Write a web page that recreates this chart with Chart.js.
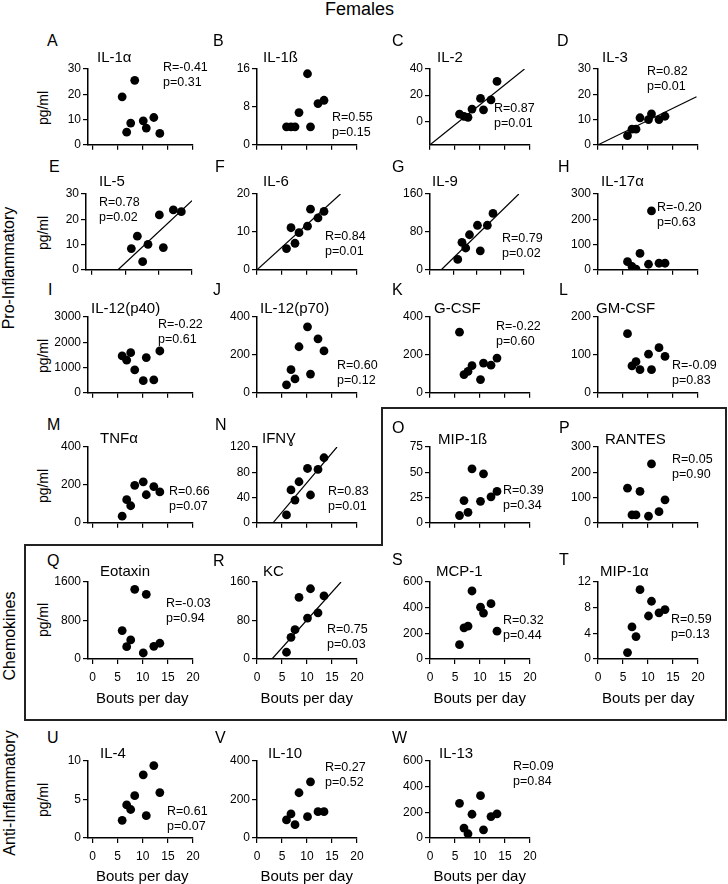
<!DOCTYPE html>
<html>
<head>
<meta charset="utf-8">
<script src="https://cdn.jsdelivr.net/npm/chart.js@4.4.1/dist/chart.umd.min.js"></script>
<style>
body { margin: 0; background: #fff; }
#wrap { position: relative; width: 728px; height: 884px; overflow: hidden; font-family: "Liberation Sans", Arial, sans-serif; color: #000; }
.t { position: absolute; white-space: nowrap; line-height: 1; }
.rot { position: absolute; white-space: nowrap; line-height: 1; transform: translate(-50%, -50%) rotate(-90deg); }
canvas { position: absolute; }
svg { position: absolute; left: 0; top: 0; }
</style>
</head>
<body>
<div id="wrap"></div>
<script>
// bouts per day of the 8 females (same animals in every panel)
const bouts = [5.9, 6.8, 7.6, 8.4, 10.1, 10.7, 12.2, 13.4];
const xTicks = [0, 5, 10, 15, 20];

// cytokine levels, pg/ml, in the same order as bouts
const il1a  = [19, 5, 8.6, 25.5, 9.5, 6.6, 10.8, 4.5];
const il1b  = [3.8, 3.8, 3.8, 6.8, 15, 3.8, 8.7, 9.4];
const il2   = [5.5, 3.8, 3, 9.3, 17.5, 8.8, 16.3, 30.5];
const il3   = [3.6, 6.2, 6.2, 10.7, 10, 12.2, 10, 11.3];
const il5   = [8.4, 13.3, 3.2, 10.1, 21.7, 8.8, 23.7, 23];
const il6   = [5.6, 11.1, 7.0, 9.8, 11.5, 16, 13.7, 15.4];
const il9   = [22, 58, 46, 74, 94, 40, 94, 119];
const il17a = [32, 13, 3, 65, 22, 233, 26, 26];
const il12p40 = [1460, 1290, 1590, 910, 480, 1395, 510, 1655];
const il12p70 = [42, 122, 73, 243, 348, 99, 285, 221];
const gcsf  = [320, 96, 113, 143, 70, 157, 146, 183];
const gmcsf = [156, 71, 82, 61, 102, 61, 119, 96];
const tnfa  = [35, 122, 90, 198, 216, 148, 191, 163];
const ifng  = [12.5, 52, 36, 65, 86, 44, 84.5, 103];
const mip1b = [7.2, 22, 10.4, 53.4, 21.2, 48.5, 25.7, 31];
const rantes = [137, 31, 31, 124, 26, 233, 44, 91];
const eotaxin = [590, 257, 397, 1447, 125, 1343, 264, 327];
const kc    = [14, 45, 61, 128, 85, 146, 96, 131];
const mcp1  = [112, 243, 256, 530, 404, 358, 431, 217];
const mip1a = [1.0, 5.0, 3.5, 10.8, 6.7, 9.0, 7.2, 7.7];
const il4   = [2.3, 4.3, 3.7, 5.5, 8.2, 2.9, 9.4, 5.9];
const il10  = [94, 125, 69, 235, 111, 292, 137, 137];
const il13  = [270, 77, 33, 185, 330, 64, 167, 188];

const series = [il1a, il1b, il2, il3, il5, il6, il9, il17a, il12p40, il12p70, gcsf, gmcsf,
                tnfa, ifng, mip1b, rantes, eotaxin, kc, mcp1, mip1a, il4, il10, il13];
const names = ["IL-1α", "IL-1ß", "IL-2", "IL-3", "IL-5", "IL-6", "IL-9", "IL-17α", "IL-12(p40)", "IL-12(p70)",
               "G-CSF", "GM-CSF", "TNFα", "IFNƔ", "MIP-1ß", "RANTES", "Eotaxin", "KC", "MCP-1", "MIP-1α",
               "IL-4", "IL-10", "IL-13"];
const letters = "ABCDEFGHIJKLMNOPQRSTUVW".split("");
const rText = ["R=-0.41", "R=0.55", "R=0.87", "R=0.82", "R=0.78", "R=0.84", "R=0.79", "R=-0.20", "R=-0.22", "R=0.60",
               "R=-0.22", "R=-0.09", "R=0.66", "R=0.83", "R=0.39", "R=0.05", "R=-0.03", "R=0.75", "R=0.32", "R=0.59",
               "R=0.61", "R=0.27", "R=0.09"];
const pText = ["p=0.31", "p=0.15", "p=0.01", "p=0.01", "p=0.02", "p=0.01", "p=0.02", "p=0.63", "p=0.61", "p=0.12",
               "p=0.60", "p=0.83", "p=0.07", "p=0.01", "p=0.34", "p=0.90", "p=0.94", "p=0.03", "p=0.44", "p=0.13",
               "p=0.07", "p=0.52", "p=0.84"];
const yTickSets = [[0, 10, 20, 30], [0, 8, 16], [0, 20, 40], [0, 10, 20, 30], [0, 10, 20, 30], [0, 10, 20],
                   [0, 80, 160], [0, 100, 200, 300], [0, 1000, 2000, 3000], [0, 200, 400], [0, 200, 400], [0, 100, 200],
                   [0, 200, 400], [0, 40, 80, 120], [0, 25, 50, 75], [0, 100, 200, 300], [0, 800, 1600], [0, 80, 160],
                   [0, 200, 400, 600], [0, 4, 8, 12], [0, 5, 10], [0, 200, 400], [0, 200, 400, 600]];
const yMinVals = [0, 0, -18, 0, 0, 0, 0, 0, 0, 0, 0, 0, 0, 0, 0, 0, 0, 0, 0, 0, 0, 0, 0];
const xMaxVals = [20, 20, 20, 20, 15, 20, 20, 20, 20, 20, 20, 20, 20, 20, 20, 20, 20, 20, 20, 20, 20, 20, 20];

// regression lines, two end points each (bouts, pg/ml)
const fitIL2 = [[0, -18], [18.9, 40]];
const fitIL3 = [[0, 0], [19.7, 19]];
const fitIL5 = [[3.9, 0], [15, 27.4]];
const fitIL6 = [[0, 0], [16.7, 20]];
const fitIL9 = [[2.4, 0], [18.9, 160]];
const fitIFNg = [[3.2, 0], [16, 120]];
const fitKC = [[3, 0], [16.8, 160]];
const fits = {2: fitIL2, 3: fitIL3, 4: fitIL5, 5: fitIL6, 6: fitIL9, 13: fitIFNg, 17: fitKC};

// ---- layout (pixels) ----
const FONT = '"Liberation Sans", Arial, sans-serif';
const colX0 = [92.3, 256.7, 429.7, 598.3];
const rowTop = [69, 194.4, 317.3, 447.3, 581.7, 761];
const plotH = 77;
const xTitleY = [0, 0, 0, 0, 697, 875];
const letterPos = [[47,41],[213,41],[392,41],[557,41],[49,167],[215,167],[392,167],[558,167],
                   [48,290],[213,290],[392,290],[559,290],[47,425],[215,425],[392,428],[559,428],
                   [47,561],[213,561],[392,560],[559,560],[47,738],[215,738],[392,738]];
const titlePos = [[97,56],[263,56],[437,56],[602,56],[99,180],[263,180],[432,180],[601,180],
                  [91,307],[260,307],[434,307],[596,307],[100,437],[262,437],[438,438],[605,438],
                  [100,570],[263,570],[436,570],[600,570],[100,752],[268,752],[439,752]];
const statPos = [[163,67],[332,117],[494,108],[647,71],[99,202],[325,236],[502,238],[657,207],
                 [158,324],[337,365],[496,326],[672,365],[169,491],[328,491],[503,490],[672,459],
                 [166,603],[327,629],[503,620],[671,619],[167,811],[325,767],[513,766]];

const wrap = document.getElementById("wrap");

function addText(txt, x, y, size, cls) {
  const d = document.createElement("div");
  d.className = cls || "t";
  d.textContent = txt;
  d.style.left = x + "px";
  d.style.top = y + "px";
  d.style.fontSize = size + "px";
  if (!cls) d.style.transform = "translateY(-50%)";
  wrap.appendChild(d);
  return d;
}

// box around chemokines
const svgNS = "http://www.w3.org/2000/svg";
const svg = document.createElementNS(svgNS, "svg");
svg.setAttribute("width", 728);
svg.setAttribute("height", 884);
const poly = document.createElementNS(svgNS, "polygon");
poly.setAttribute("points", "382,408 726,408 726,720 25,720 25,545 382,545");
poly.setAttribute("fill", "none");
poly.setAttribute("stroke", "#222");
poly.setAttribute("stroke-width", "2");
svg.appendChild(poly);
wrap.appendChild(svg);

addText("Females", 325, 9, 18);

// side labels
const side = [["Pro-Inflammatory", 9, 268], ["Chemokines", 10, 636], ["Anti-Inflammatory", 10, 793]];
side.forEach(s => { addText(s[0], s[1], s[2], 16, "rot"); });
const pgRows = [107.5, 233, 355.6, 485.6, 620, 800];
pgRows.forEach(y => addText("pg/ml", 43, y, 14, "rot"));

series.forEach((vals, i) => {
  const col = i % 4, row = Math.floor(i / 4);
  const xMax = xMaxVals[i];
  const plotW = i === 6 ? 94.2 : 100;
  const pxu = plotW / xMax;
  const xMin = col === 0 ? -0.9 : 0;
  const areaL = colX0[col] + xMin * pxu;
  const areaW = (xMax - xMin) * pxu;
  const showX = row >= 4;
  const padL = 50, padT = 12, padR = 14, padB = showX ? 30 : 8;

  const cv = document.createElement("canvas");
  const cw = Math.round(padL + areaW + padR), ch = Math.round(padT + plotH + padB);
  cv.width = cw; cv.height = ch;
  cv.style.width = cw + "px"; cv.style.height = ch + "px";
  cv.style.left = (areaL - padL) + "px";
  cv.style.top = (rowTop[row] - padT) + "px";
  wrap.appendChild(cv);

  const datasets = [{
    data: bouts.map((b, j) => ({x: b, y: vals[j]})),
    pointRadius: 4.4, pointHoverRadius: 4.4,
    backgroundColor: "#000", borderColor: "#000", borderWidth: 0
  }];
  if (fits[i]) {
    datasets.push({
      type: "line",
      data: fits[i].map(p => ({x: p[0], y: p[1]})),
      borderColor: "#000", borderWidth: 1.2, pointRadius: 0, fill: false
    });
  }
  const yt = yTickSets[i];
  const xt = xTicks.filter(v => v <= xMax);

  new Chart(cv.getContext("2d"), {
    type: "scatter",
    data: {datasets: datasets},
    options: {
      responsive: false, animation: false, events: [],
      layout: {padding: {top: padT, right: padR, left: 0, bottom: 0}},
      plugins: {legend: {display: false}, tooltip: {enabled: false}},
      scales: {
        x: {
          type: "linear", min: xMin, max: xMax,
          afterBuildTicks: s => { s.ticks = xt.map(v => ({value: v})); },
          afterFit: s => { s.height = padB; },
          grid: {display: true, drawOnChartArea: false, drawTicks: true, tickLength: 5, color: "#000", lineWidth: 1.2},
          border: {display: true, color: "#000", width: 1.5},
          ticks: {display: showX, color: "#000", font: {family: FONT, size: 12}, padding: 6, maxRotation: 0,
                  autoSkip: false, callback: v => String(v)}
        },
        y: {
          type: "linear", min: yMinVals[i], max: yt[yt.length - 1],
          afterBuildTicks: s => { s.ticks = yt.map(v => ({value: v})); },
          afterFit: s => { s.width = padL; },
          grid: {display: true, drawOnChartArea: false, drawTicks: true, tickLength: 5, color: "#000", lineWidth: 1.2},
          border: {display: true, color: "#000", width: 1.5},
          ticks: {color: "#000", font: {family: FONT, size: 12}, padding: 2, autoSkip: false, callback: v => String(v)}
        }
      }
    }
  });

  addText(letters[i], letterPos[i][0], letterPos[i][1], 16);
  addText(names[i], titlePos[i][0], titlePos[i][1], 15);
  const st = document.createElement("div");
  st.className = "t";
  st.style.left = statPos[i][0] + "px";
  st.style.top = (statPos[i][1] - 7.5) + "px";
  st.style.fontSize = "12.5px";
  st.style.lineHeight = "15px";
  st.innerHTML = rText[i] + "<br>" + pText[i];
  wrap.appendChild(st);

  if (showX) addText("Bouts per day", colX0[col] + 50, xTitleY[row], 15, "t xlab");
});

document.querySelectorAll(".xlab").forEach(d => { d.style.transform = "translate(-50%, -50%)"; });
</script>
</body>
</html>
